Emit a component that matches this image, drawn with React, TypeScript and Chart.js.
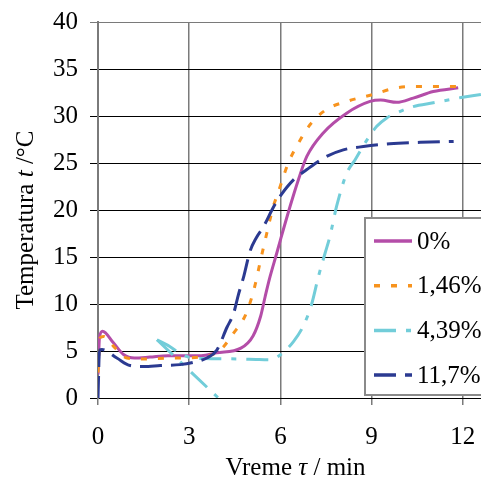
import { useEffect, useRef } from 'react';
import { Chart, registerables } from 'chart.js';

Chart.register(...registerables);

const FONT = "'Liberation Serif', 'Times New Roman', serif";
const FONT_SIZE = 25;

// Series names shown in the legend
const seriesNames = ['0%', '1,46%', '4,39%', '11,7%'];
const seriesColors = ['#B44DA8', '#F7931E', '#72CDD9', '#2B3A91'];

// 0 %
const time0 = [0, 0.05, 0.15, 0.5, 0.85, 1.2, 1.7, 2.3, 3.4, 3.9, 4.7, 5.1, 5.35, 5.5, 5.66, 5.88, 6.0, 6.32, 6.59, 6.87, 7.41, 8.18, 8.95, 9.3, 9.83, 10.37, 11.03, 11.85];
const temp0 = [2.5, 6.5, 7.1, 5.9, 4.6, 4.25, 4.35, 4.5, 4.5, 4.8, 5.3, 6.6, 8.7, 10.8, 12.9, 15.4, 16.8, 20.4, 23.2, 25.7, 28.2, 30.3, 31.55, 31.7, 31.45, 31.9, 32.6, 33.0];

// 1,46 %
const time1 = [0, 0.07, 0.18, 0.57, 0.95, 1.4, 2.3, 3.36, 4.02, 4.46, 4.82, 5.0, 5.17, 5.33, 5.5, 5.77, 5.93, 6.26, 6.54, 6.98, 7.52, 8.18, 9.06, 9.83, 10.7, 11.8];
const temp1 = [2.7, 6.4, 6.55, 5.3, 4.25, 4.15, 4.25, 4.35, 5.1, 6.9, 8.6, 10.1, 12.05, 14.4, 16.8, 20.4, 21.9, 25.0, 26.8, 29.1, 30.7, 31.55, 32.3, 33.0, 33.15, 33.15];

// 4,39 %
const time2 = [1.94, 2.3, 2.6, 3.03, 3.5, 4.68, 5.2, 5.66, 6.0, 6.43, 6.76, 7.03, 7.25, 7.47, 7.63, 7.85, 8.18, 8.46, 8.78, 9.17, 9.5, 9.88, 10.37, 11.03, 11.6, 12.0, 12.6, 12.9];
const temp2 = [6.2, 5.6, 4.96, 4.3, 4.2, 4.15, 4.1, 4.07, 4.6, 6.0, 7.7, 10.0, 12.9, 15.4, 17.2, 20.4, 23.9, 25.35, 27.1, 28.9, 29.8, 30.4, 31.0, 31.4, 31.75, 32.0, 32.3, 32.4];
// 4,39 % – straight drop segment from the first reading
const time2Drop = [1.94, 3.96];
const temp2Drop = [6.2, 0];

// 11,7 %
const time3 = [0, 0.05, 0.13, 0.62, 1.06, 1.5, 2.05, 2.7, 3.14, 3.58, 3.91, 4.24, 4.46, 4.62, 4.8, 5.0, 5.2, 5.44, 5.77, 6.0, 6.43, 6.87, 7.52, 8.07, 8.73, 9.6, 10.6, 11.7];
const temp3 = [0, 5.1, 5.15, 4.25, 3.45, 3.35, 3.45, 3.55, 3.8, 4.25, 5.1, 7.5, 9.0, 11.0, 13.0, 15.6, 17.0, 18.2, 20.3, 21.5, 23.2, 24.3, 25.7, 26.4, 26.75, 27.05, 27.2, 27.3];

const seriesDash = [[], [6, 11], [22, 10, 5, 10], [22, 9]];

const xMin = 0;
const xMax = 12.6;
const xStep = 3;
const yMin = 0;
const yMax = 40;
const yStep = 5;

const toPoints = (xs: number[], ys: number[]) => xs.map((x, i) => ({ x, y: ys[i] }));

type Part = { text: string; italic?: boolean };

function drawRich(ctx: CanvasRenderingContext2D, parts: Part[], x: number, y: number, size: number) {
  const fontOf = (p: Part) => `${p.italic ? 'italic ' : ''}${size}px ${FONT}`;
  let total = 0;
  parts.forEach((p) => {
    ctx.font = fontOf(p);
    total += ctx.measureText(p.text).width;
  });
  let cx = x - total / 2;
  ctx.textAlign = 'left';
  ctx.textBaseline = 'alphabetic';
  parts.forEach((p) => {
    ctx.font = fontOf(p);
    ctx.fillText(p.text, cx, y);
    cx += ctx.measureText(p.text).width;
  });
}

const axisTitles = {
  id: 'axisTitles',
  afterDraw(chart: Chart) {
    const ctx = chart.ctx;
    const area = chart.chartArea;
    ctx.save();
    ctx.fillStyle = '#000';
    drawRich(ctx, [{ text: 'Vreme ' }, { text: 'τ', italic: true }, { text: ' / min' }], (area.left + area.right) / 2 + 6, 475, FONT_SIZE);
    ctx.translate(33, (area.top + area.bottom) / 2 + 10);
    ctx.rotate(-Math.PI / 2);
    drawRich(ctx, [{ text: 'Temperatura ' }, { text: 't', italic: true }, { text: ' /°C' }], 0, 0, FONT_SIZE);
    ctx.restore();
  },
};

const boxLegend = {
  id: 'boxLegend',
  afterDatasetsDraw(chart: Chart) {
    const ctx = chart.ctx;
    const left = 365;
    const top = 218;
    const bottom = 395;
    ctx.save();
    ctx.fillStyle = '#fff';
    ctx.fillRect(left, top, chart.width - left + 10, bottom - top);
    ctx.strokeStyle = '#8a8a8a';
    ctx.lineWidth = 2;
    ctx.strokeRect(left, top, chart.width - left + 10, bottom - top);
    seriesNames.forEach((name, i) => {
      const y = 241 + i * 44.7;
      ctx.strokeStyle = seriesColors[i];
      ctx.lineWidth = 3.5;
      ctx.setLineDash(seriesDash[i]);
      ctx.beginPath();
      ctx.moveTo(374, y);
      ctx.lineTo(412, y);
      ctx.stroke();
      ctx.setLineDash([]);
      ctx.fillStyle = '#000';
      ctx.font = `${FONT_SIZE}px ${FONT}`;
      ctx.textAlign = 'left';
      ctx.textBaseline = 'middle';
      ctx.fillText(name, 417, y + 1);
    });
    ctx.restore();
  },
};

export default function App() {
  const canvasRef = useRef<HTMLCanvasElement | null>(null);

  useEffect(() => {
    const canvas = canvasRef.current;
    if (!canvas) return;
    const line = (i: number, data: { x: number; y: number }[], order: number, extra: object = {}) => ({
      label: seriesNames[i],
      data,
      borderColor: seriesColors[i],
      backgroundColor: seriesColors[i],
      borderWidth: 3,
      borderDash: seriesDash[i],
      pointRadius: 0,
      fill: false,
      cubicInterpolationMode: 'monotone' as const,
      order,
      ...extra,
    });
    const chart = new Chart(canvas, {
      type: 'line',
      data: {
        datasets: [
          line(0, toPoints(time0, temp0), 4),
          line(1, toPoints(time1, temp1), 3),
          line(2, toPoints(time2, temp2), 2),
          line(2, toPoints(time2Drop, temp2Drop), 2, { cubicInterpolationMode: 'default', tension: 0 }),
          line(3, toPoints(time3, temp3), 1),
        ],
      },
      options: {
        animation: false,
        responsive: false,
        devicePixelRatio: 1,
        layout: { padding: { top: 22, right: 0, bottom: 0, left: 0 } },
        plugins: { legend: { display: false }, tooltip: { enabled: false } },
        scales: {
          x: {
            type: 'linear',
            min: xMin,
            max: xMax,
            ticks: {
              stepSize: xStep,
              includeBounds: false,
              color: '#000',
              font: { family: FONT, size: FONT_SIZE },
              padding: 17,
              maxRotation: 0,
            },
            grid: { color: '#7a7a7a', lineWidth: 1.5, tickLength: 7 },
            border: { color: '#000', width: 1 },
            afterFit: (s: any) => {
              s.height = 81;
              s.paddingRight = 0;
              s.paddingLeft = 0;
            },
          },
          y: {
            type: 'linear',
            min: yMin,
            max: yMax,
            ticks: {
              stepSize: yStep,
              color: '#000',
              font: { family: FONT, size: FONT_SIZE },
              padding: 12,
            },
            grid: {
              color: (c: any) => (c.tick && c.tick.value === yMax ? '#7a7a7a' : '#000'),
              lineWidth: 1,
              tickLength: 8,
            },
            border: { color: '#7a7a7a', width: 2 },
            afterFit: (s: any) => {
              s.width = 98;
              s.paddingTop = 0;
              s.paddingBottom = 0;
            },
          },
        },
      },
      plugins: [boxLegend, axisTitles],
    });
    return () => chart.destroy();
  }, []);

  return (
    <div style={{ position: 'absolute', left: 0, top: 0, width: 481, height: 479, background: '#fff' }}>
      <canvas ref={canvasRef} width={481} height={479} />
    </div>
  );
}
